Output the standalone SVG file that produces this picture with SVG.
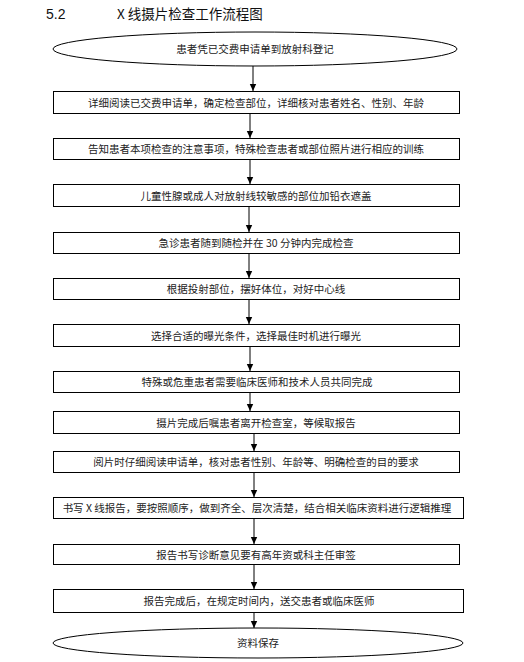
<svg xmlns="http://www.w3.org/2000/svg" width="524" height="662" viewBox="0 0 524 662">
<defs>
<style>
.t{font-family:"Noto Sans CJK SC","Liberation Sans",sans-serif;font-size:10.5px;fill:#222;text-anchor:middle}
.ttl{font-family:"Noto Sans CJK SC","Liberation Sans",sans-serif;font-size:13.5px;fill:#111}
.b{fill:#fff;stroke:#000;stroke-width:1}
.c{stroke:#000;stroke-width:1;fill:none;marker-end:url(#ah)}
</style>
<marker id="ah" markerUnits="userSpaceOnUse" markerWidth="8" markerHeight="8" refX="7" refY="4" orient="auto">
<path d="M0,0.8 L7,4 L0,7.2 Z" fill="#000"/>
</marker>
</defs>
<rect width="524" height="662" fill="#fff"/>
<g id="title">
<text class="ttl" x="46" y="19" style="font-family:'Liberation Sans',sans-serif;font-size:14px">5.2</text>
<text class="ttl" x="117" y="19">X 线摄片检查工作流程图</text>
</g>
<g id="connectors">
<line class="c" x1="253" y1="66" x2="253" y2="91"/>
<line class="c" x1="250" y1="113" x2="250" y2="138"/>
<line class="c" x1="250" y1="159" x2="250" y2="184"/>
<line class="c" x1="249" y1="206" x2="249" y2="232"/>
<line class="c" x1="249" y1="253" x2="249" y2="278"/>
<line class="c" x1="249" y1="299" x2="249" y2="324"/>
<line class="c" x1="250" y1="346" x2="250" y2="371"/>
<line class="c" x1="250" y1="392" x2="250" y2="411"/>
<line class="c" x1="254" y1="433" x2="254" y2="451"/>
<line class="c" x1="254" y1="473" x2="254" y2="497"/>
<line class="c" x1="254" y1="518" x2="254" y2="544"/>
<line class="c" x1="254" y1="564" x2="254" y2="589"/>
<line class="c" x1="254" y1="612" x2="254" y2="628"/>
</g>
<g id="start">
<ellipse class="b" cx="255" cy="49" rx="202" ry="17"/>
<text class="t" x="255" y="53">患者凭已交费申请单到放射科登记</text>
</g>
<g id="n1">
<rect class="b" x="53.5" y="91.5" width="406" height="22"/>
<text class="t" x="256" y="106.5">详细阅读已交费申请单，确定检查部位，详细核对患者姓名、性别、年龄</text>
</g>
<g id="n2">
<rect class="b" x="53.5" y="138.5" width="406" height="21"/>
<text class="t" x="256" y="153">告知患者本项检查的注意事项，特殊检查患者或部位照片进行相应的训练</text>
</g>
<g id="n3">
<rect class="b" x="53.5" y="184.5" width="406" height="22"/>
<text class="t" x="256" y="199.5">儿童性腺或成人对放射线较敏感的部位加铅衣遮盖</text>
</g>
<g id="n4">
<rect class="b" x="53.5" y="232.5" width="406" height="21"/>
<text class="t" x="256" y="247">急诊患者随到随检并在 30 分钟内完成检查</text>
</g>
<g id="n5">
<rect class="b" x="53.5" y="278.5" width="406" height="21"/>
<text class="t" x="256" y="293">根据投射部位，摆好体位，对好中心线</text>
</g>
<g id="n6">
<rect class="b" x="53.5" y="324.5" width="406" height="22"/>
<text class="t" x="256" y="339.5">选择合适的曝光条件，选择最佳时机进行曝光</text>
</g>
<g id="n7">
<rect class="b" x="53.5" y="371.5" width="406" height="21"/>
<text class="t" x="257" y="386">特殊或危重患者需要临床医师和技术人员共同完成</text>
</g>
<g id="n8">
<rect class="b" x="53.5" y="411.5" width="406" height="22"/>
<text class="t" x="256" y="426.5">摄片完成后嘱患者离开检查室，等候取报告</text>
</g>
<g id="n9">
<rect class="b" x="53.5" y="451.5" width="406" height="21"/>
<text class="t" x="256" y="466">阅片时仔细阅读申请单，核对患者性别、年龄等、明确检查的目的要求</text>
</g>
<g id="n10">
<rect class="b" x="53.5" y="497.5" width="410" height="21"/>
<text class="t" x="257" y="512">书写 X 线报告，要按照顺序，做到齐全、层次清楚，结合相关临床资料进行逻辑推理</text>
</g>
<g id="n11">
<rect class="b" x="53.5" y="544.5" width="406" height="20"/>
<text class="t" x="256" y="558.5">报告书写诊断意见要有高年资或科主任审签</text>
</g>
<g id="n12">
<rect class="b" x="53.5" y="589.5" width="410" height="23"/>
<text class="t" x="259" y="605">报告完成后，在规定时间内，送交患者或临床医师</text>
</g>
<g id="end">
<ellipse class="b" cx="258" cy="643" rx="205" ry="15"/>
<text class="t" x="258" y="647">资料保存</text>
</g>
</svg>
